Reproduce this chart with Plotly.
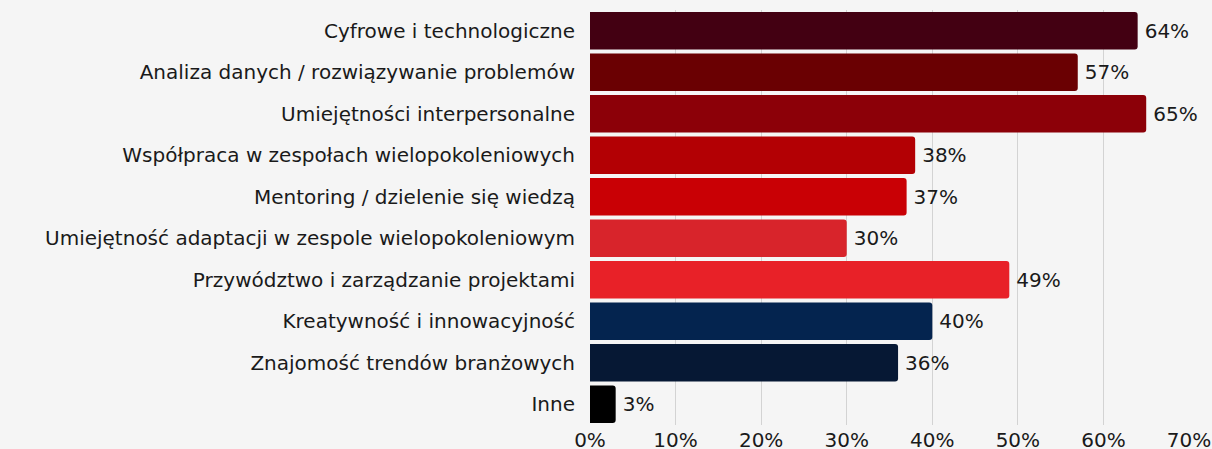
import plotly.graph_objects as go

categories = [
    "Cyfrowe i technologiczne",
    "Analiza danych / rozwiązywanie problemów",
    "Umiejętności interpersonalne",
    "Współpraca w zespołach wielopokoleniowych",
    "Mentoring / dzielenie się wiedzą",
    "Umiejętność adaptacji w zespole wielopokoleniowym",
    "Przywództwo i zarządzanie projektami",
    "Kreatywność i innowacyjność",
    "Znajomość trendów branżowych",
    "Inne",
]
values = [64, 57, 65, 38, 37, 30, 49, 40, 36, 3]
colors = [
    "#430012", "#6a0002", "#8c0008", "#b30004", "#c90005",
    "#d8242b", "#e82128", "#04244f", "#061834", "#000000",
]
tick_vals = [0, 10, 20, 30, 40, 50, 60, 70]
tick_text = [f"{v}%" for v in tick_vals]

FONT = "DejaVu Sans"
SIZE = 20

fig = go.Figure(go.Bar(
    x=values,
    y=categories,
    orientation="h",
    marker=dict(color=colors, line=dict(width=0)),
    text=[f"\u2009{v}%" for v in values],
    textposition="outside",
    textfont=dict(family=FONT, size=SIZE, color="#1a1a1a"),
    cliponaxis=False,
))

fig.update_layout(
    width=1212, height=449,
    margin=dict(l=590, r=23, t=10, b=24, autoexpand=False),
    paper_bgcolor="#f5f5f5",
    plot_bgcolor="#f5f5f5",
    font=dict(family=FONT, size=SIZE, color="#1a1a1a"),
    bargap=0.1,
    barcornerradius=3,
    showlegend=False,
    xaxis=dict(
        range=[0, 70],
        tickvals=tick_vals,
        ticktext=tick_text,
        showgrid=True,
        gridcolor="#d3d3d3",
        gridwidth=1,
        zeroline=False,
        showline=False,
        tickfont=dict(family=FONT, size=SIZE),
        ticks="",
        ticklabelstandoff=1,
        automargin=False,
    ),
    yaxis=dict(
        autorange="reversed",
        showgrid=False,
        ticks="",
        ticklabelstandoff=14,
        tickfont=dict(family=FONT, size=SIZE),
        automargin=False,
    ),
)

fig.write_html("out.html")
